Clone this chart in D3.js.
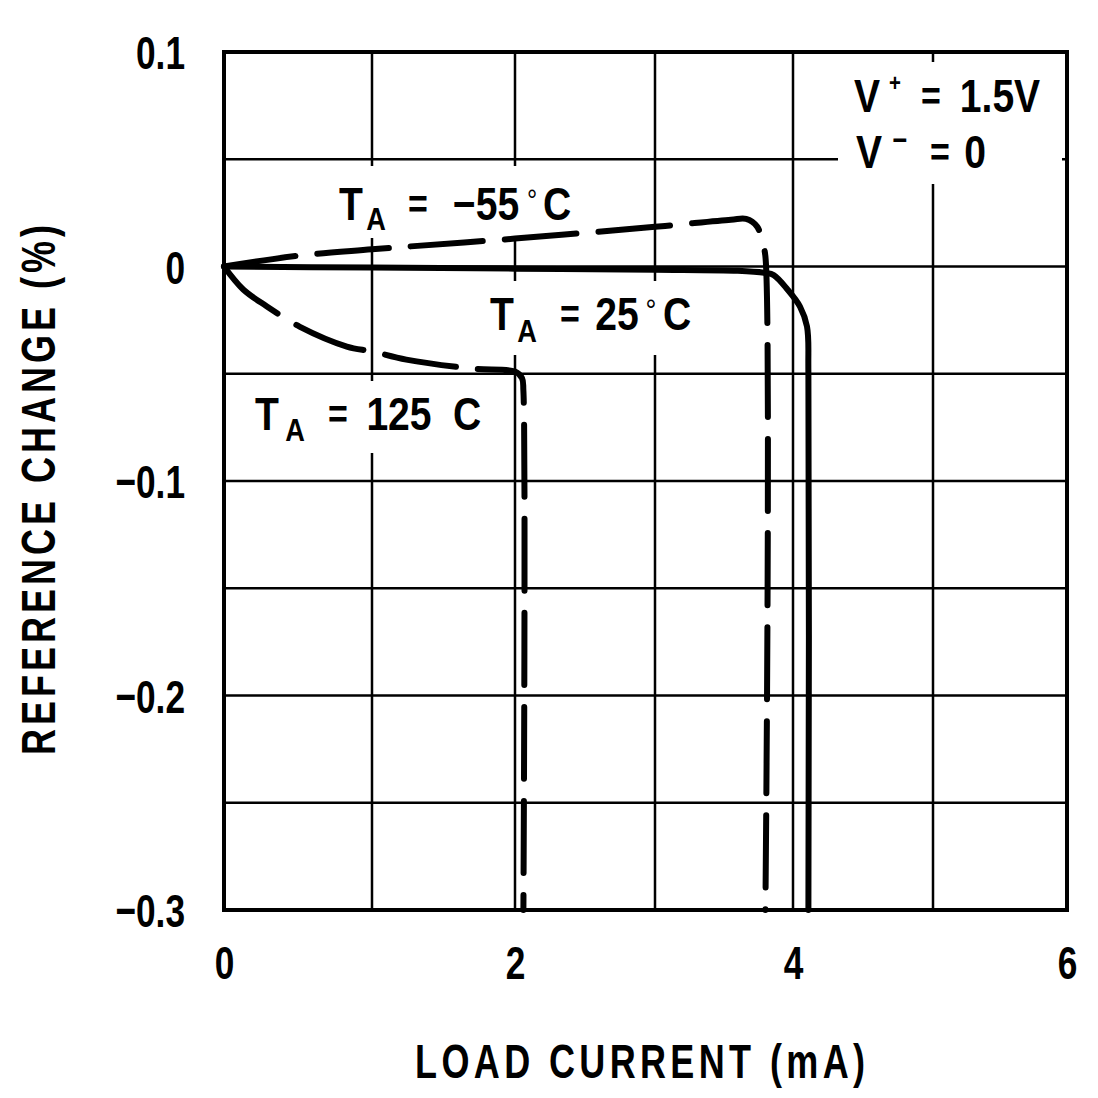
<!DOCTYPE html>
<html>
<head>
<meta charset="utf-8">
<script src="https://cdn.jsdelivr.net/npm/d3@7/dist/d3.min.js"></script>
<style>
  html, body { margin: 0; padding: 0; background: #fff; }
  svg { display: block; }
  text { font-family: 'Liberation Sans', Arial, sans-serif; font-weight: bold; fill: #000; }
</style>
</head>
<body>
<svg id="chart" width="1098" height="1098"></svg>
<script>
// ---------- data ----------
const xTickValues = [0, 2, 4, 6];
const xTickLabels = ["0", "2", "4", "6"];
const yTickValues = [0.1, 0, -0.1, -0.2, -0.3];
const yTickLabels = ["0.1", "0", "\u22120.1", "\u22120.2", "\u22120.3"];
const xGridValues = [0, 1, 2, 3, 4, 5, 6];
const yGridValues = [0.1, 0.05, 0, -0.05, -0.1, -0.15, -0.2, -0.25, -0.3];

// load current (mA) and reference change (%)
const curve25X   = [0, 1, 2, 3, 3.6, 3.8, 3.86, 3.96, 4.05, 4.1, 4.11, 4.11];
const curve25Y   = [0, -0.0005, -0.001, -0.0015, -0.002, -0.003, -0.004, -0.0107, -0.0187, -0.028, -0.05, -0.3];
const curveM55X  = [0, 0.5, 1, 2, 3, 3.55, 3.66, 3.74, 3.78, 3.8, 3.8];
const curveM55Y  = [0, 0.005, 0.008, 0.013, 0.0185, 0.0218, 0.0222, 0.0186, 0.0107, 0.0047, -0.3];
const curve125X  = [0, 0.13, 0.29, 0.51, 0.83, 1.0, 1.24, 1.7, 2.0, 2.05, 2.06, 2.06];
const curve125Y  = [0, -0.0107, -0.0186, -0.028, -0.0373, -0.0396, -0.0434, -0.0476, -0.049, -0.052, -0.058, -0.3];

// ---------- layout ----------
const SX = 0.75;   // horizontal condensing of axis lettering
const SXA = 0.85;  // horizontal condensing of annotation lettering
const svg = d3.select("#chart");
const x = d3.scaleLinear().domain([0, 1, 2, 3, 4, 5, 6]).range([224, 372, 515, 655, 793, 933, 1067]);
const y = d3.scaleLinear().domain([0.1, -0.3]).range([52, 910]);

// grid
svg.append("g").selectAll("line").data(xGridValues).join("line")
  .attr("x1", d => x(d)).attr("x2", d => x(d))
  .attr("y1", y(0.1)).attr("y2", y(-0.3))
  .attr("stroke", "#000").attr("stroke-width", 2.5);
svg.append("g").selectAll("line").data(yGridValues).join("line")
  .attr("y1", d => y(d)).attr("y2", d => y(d))
  .attr("x1", x(0)).attr("x2", x(6))
  .attr("stroke", "#000").attr("stroke-width", 2.5);

// white boxes behind labels (pixel layout)
const boxes = [
  {x: 335, y: 166, w: 240, h: 72},
  {x: 486, y: 281, w: 210, h: 74},
  {x: 240, y: 381, w: 250, h: 72},
  {x: 838, y: 62,  w: 224, h: 122}
];
svg.append("g").selectAll("rect").data(boxes).join("rect")
  .attr("x", d => d.x).attr("y", d => d.y).attr("width", d => d.w).attr("height", d => d.h)
  .attr("fill", "#fff");

// frame
svg.append("rect")
  .attr("x", x(0)).attr("y", y(0.1))
  .attr("width", x(6) - x(0)).attr("height", y(-0.3) - y(0.1))
  .attr("fill", "none").attr("stroke", "#000").attr("stroke-width", 4);

// curves
const line = d3.line().x(d => x(d[0])).y(d => y(d[1])).curve(d3.curveCatmullRom.alpha(0.5));
function drawCurve(xs, ys, dashed) {
  const pts = xs.map((v, i) => [v, ys[i]]);
  svg.append("path").datum(pts)
    .attr("d", line)
    .attr("fill", "none").attr("stroke", "#000")
    .attr("stroke-width", 6)
    .attr("stroke-linecap", "round").attr("stroke-linejoin", "round")
    .attr("stroke-dasharray", dashed ? "72 22" : null);
}
drawCurve(curve25X, curve25Y, false);
drawCurve(curveM55X, curveM55Y, true);
drawCurve(curve125X, curve125Y, true);

// axes (labels only)
const yAxis = d3.axisLeft(y).tickValues(yTickValues).tickFormat((d, i) => yTickLabels[i]).tickSize(0).tickPadding(39);
const gy = svg.append("g").attr("transform", `translate(${x(0)},0)`).call(yAxis);
gy.select(".domain").remove();
gy.selectAll("text")
  .attr("font-size", 47).attr("font-family", null)
  .attr("x", -39 / SX).attr("dy", "0.36em")
  .attr("transform", `scale(${SX},1)`);

const xAxis = d3.axisBottom(x).tickValues(xTickValues).tickFormat((d, i) => xTickLabels[i]).tickSize(0).tickPadding(36);
const gx = svg.append("g").attr("transform", `translate(0,${y(-0.3)})`).call(xAxis);
gx.select(".domain").remove();
gx.selectAll("text")
  .attr("font-size", 47).attr("font-family", null)
  .attr("transform", `scale(${SX},1)`);

// axis titles
svg.append("text")
  .attr("transform", `translate(640,1078) scale(${SX},1)`)
  .attr("text-anchor", "middle")
  .attr("font-size", 48)
  .attr("textLength", 450 / SX).attr("lengthAdjust", "spacing")
  .text("LOAD CURRENT (mA)");
svg.append("text")
  .attr("transform", `translate(55,490) rotate(-90) scale(${SX},1)`)
  .attr("text-anchor", "middle")
  .attr("font-size", 48)
  .attr("textLength", 530 / SX).attr("lengthAdjust", "spacing")
  .text("REFERENCE CHANGE (%)");

// annotations: each piece centred at its pixel position, on its baseline
function richLabel(parts) {
  const t = svg.append("text").attr("transform", `scale(${SXA},1)`);
  parts.forEach(p => {
    t.append("tspan")
      .attr("x", p.x / SXA).attr("y", p.y)
      .attr("text-anchor", "middle")
      .attr("font-size", p.size)
      .attr("font-weight", p.light ? "normal" : null)
      .text(p.s);
  });
  return t;
}
richLabel([
  {s: "T", x: 351, y: 220, size: 46},
  {s: "A", x: 376, y: 230, size: 32},
  {s: "=", x: 418, y: 218, size: 40},
  {s: "\u221255", x: 486, y: 220, size: 46},
  {s: "\u00B0", x: 532, y: 210, size: 30, light: true},
  {s: "C", x: 557, y: 220, size: 46}
]);
richLabel([
  {s: "T", x: 502, y: 330, size: 46},
  {s: "A", x: 527, y: 342, size: 32},
  {s: "=", x: 570, y: 328, size: 40},
  {s: "25", x: 617, y: 330, size: 46},
  {s: "\u00B0", x: 651, y: 321, size: 32, light: true},
  {s: "C", x: 677, y: 330, size: 46}
]);
richLabel([
  {s: "T", x: 267, y: 430, size: 46},
  {s: "A", x: 295, y: 441, size: 32},
  {s: "=", x: 338, y: 428, size: 40},
  {s: "125", x: 399, y: 430, size: 46},
  {s: "C", x: 467, y: 430, size: 46}
]);
richLabel([
  {s: "V", x: 867, y: 112, size: 46},
  {s: "+", x: 895, y: 91, size: 24},
  {s: "=", x: 931, y: 110, size: 40},
  {s: "1.5V", x: 1000, y: 112, size: 46}
]);
richLabel([
  {s: "V", x: 869, y: 168, size: 46},
  {s: "\u2212", x: 900, y: 150, size: 30},
  {s: "=", x: 940, y: 166, size: 40},
  {s: "0", x: 975, y: 168, size: 46}
]);
</script>
</body>
</html>
